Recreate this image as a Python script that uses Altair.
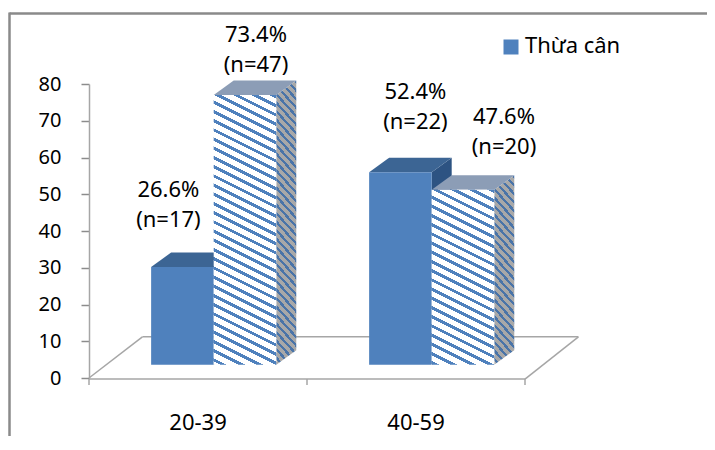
import math
import altair as alt
import pandas as pd

# ---------------- data ----------------
CATEGORIES = ["20-39", "40-59"]
SERIES = ["Thừa cân", "Không thừa cân"]
PCT_OVERWEIGHT = [26.6, 52.4]
PCT_OTHER = [73.4, 47.6]
N_OVERWEIGHT = [17, 22]
N_OTHER = [47, 20]
Y_TICKS = [0, 10, 20, 30, 40, 50, 60, 70, 80]
Y_MAX = 80

# ---------------- layout & style ----------------
FONT = "Noto Sans"
PLOT_W, PLOT_H = 520, 294
PX_PER_CAT = 218.0
X_MAX = PLOT_W / PX_PER_CAT
PX_PER_Y = PLOT_H / Y_MAX
BAR_BASE = 3.6            # 3-D floor offset of the bar front plane (y units)
BAR_LEFT = [0.285, 0.572]  # left edge of each series inside a category band
BAR_W = 0.287
DEPTH_DX = 20 / PX_PER_CAT
DEPTH_DY = 14.5 / PX_PER_Y
FLOOR_DX = 0.245
FLOOR_FRONT = -0.3
FLOOR_BACK = 11.2
TICK_LEN = 6 / PX_PER_Y
LABEL_NUDGE_PX = [-14, 11, 15, 41]
LABEL_GAP = [8.85, 4.25, 9.7, 7.7]

BLUE = "#4f81bd"
BLUE_TOP = "#3c6594"
BLUE_SIDE = "#2d5382"
HATCH_TOP = "#8c9db6"
GRAY = "#a6a6a6"
FRAME = "#8a8a8a"

X = alt.Scale(domain=[0, X_MAX], nice=False, zero=False)
Y = alt.Scale(domain=[0, Y_MAX], nice=False, zero=False)


def qx(f="x"):
    return alt.X(f"{f}:Q", scale=X, axis=None)


def qy(f="y", axis=None):
    return alt.Y(f"{f}:Q", scale=Y, axis=axis)


def stripes(w, h, m, v, frac, bg, fg):
    """Diagonal stripes as a bounding-box linear gradient (pixel slope m, vertical spacing v)."""
    gx, gy = -m / h, 1 / w
    rng = 1 / w + m / h
    s = rng / (gx * gx + gy * gy)
    n = (h + m * w) / v
    stops = []
    k = 0
    while k < n:
        a = min(k / n, 1.0)
        b = min((k + frac) / n, 1.0)
        c = min((k + 1) / n, 1.0)
        stops += [(a, fg), (b, fg), (b, bg), (c, bg)]
        k += 1
    return alt.LinearGradient(
        gradient="linear",
        x1=1.0, y1=0.0, x2=1.0 + gx * s, y2=gy * s,
        stops=[alt.GradientStop(offset=round(o, 5), color=c) for o, c in stops],
    )


# ---------------- geometry tables built from the data ----------------
bars = []
for g, cat in enumerate(CATEGORIES):
    for s, (vals, ns) in enumerate([(PCT_OVERWEIGHT, N_OVERWEIGHT), (PCT_OTHER, N_OTHER)]):
        v = vals[g]
        x = g + BAR_LEFT[s]
        bars.append(dict(id=f"{g}-{s}", cat=cat, series=SERIES[s], s=s, x=x, x2=x + BAR_W,
                         y=BAR_BASE, y2=BAR_BASE + v, value=v, n=ns[g]))


def side_rows(b):
    return [dict(id=b["id"], x=b["x2"], y=b["y2"], y2=b["y"]),
            dict(id=b["id"], x=b["x2"] + DEPTH_DX, y=b["y2"] + DEPTH_DY, y2=b["y"] + DEPTH_DY)]


def top_rows(b):
    return [dict(id=b["id"], y=b["y2"], x=b["x"], x2=b["x2"]),
            dict(id=b["id"], y=b["y2"] + DEPTH_DY, x=b["x"] + DEPTH_DX, x2=b["x2"] + DEPTH_DX)]


solid = [b for b in bars if b["s"] == 0]
hatched = [b for b in bars if b["s"] == 1]

ncat = len(CATEGORIES)
floor_df = pd.DataFrame([
    dict(x=0, x2=ncat, y=FLOOR_FRONT, y2=FLOOR_FRONT),
    dict(x=FLOOR_DX, x2=ncat + FLOOR_DX, y=FLOOR_BACK, y2=FLOOR_BACK),
    dict(x=0, x2=FLOOR_DX, y=0, y2=FLOOR_BACK),
    dict(x=ncat, x2=ncat + FLOOR_DX, y=FLOOR_FRONT, y2=FLOOR_BACK),
])
ticks_df = pd.DataFrame([dict(x=i, y=FLOOR_FRONT, y2=FLOOR_FRONT - TICK_LEN) for i in range(ncat + 1)])
cat_df = pd.DataFrame([dict(x=i + 0.5, label=c) for i, c in enumerate(CATEGORIES)])
axis_df = pd.DataFrame({"y": [0, Y_MAX]})

labels = []
for i, b in enumerate(bars):
    cx = (b["x"] + b["x2"]) / 2 + LABEL_NUDGE_PX[i] / PX_PER_CAT
    labels.append(dict(x=cx, y=b["y2"] + DEPTH_DY + LABEL_GAP[i],
                       pct=f"{b['value']}%", nlab=f"(n={b['n']})"))
labels_df = pd.DataFrame(labels)

one = pd.DataFrame({"k": [0]})
legend_df = pd.DataFrame({"label": [SERIES[0]]})

# ---------------- layers ----------------
layers = []

# outer frame (top + left)
layers.append(alt.Chart(one).mark_rule(color=FRAME, strokeWidth=2.5).encode(
    x=alt.value(-79.5), x2=alt.value(618), y=alt.value(-70.5)))
layers.append(alt.Chart(one).mark_rule(color=FRAME, strokeWidth=2.5).encode(
    x=alt.value(-79.5), y=alt.value(-71.5), y2=alt.value(360)))

# y axis
axis = alt.Axis(values=Y_TICKS, tickSize=8, labelPadding=20, domainColor=GRAY, domainWidth=1.5,
                tickColor="#8c8c8c", tickWidth=1.5, labelFont=FONT, labelFontSize=20,
                labelColor="#000000", grid=False, title=None)
layers.append(alt.Chart(axis_df).mark_point(opacity=0).encode(
    x=alt.value(0), y=qy("y", axis)))

# floor
layers.append(alt.Chart(floor_df).mark_rule(color=GRAY, strokeWidth=1.5).encode(
    x=qx("x"), x2="x2:Q", y=qy("y"), y2="y2:Q"))
layers.append(alt.Chart(ticks_df).mark_rule(color=GRAY, strokeWidth=1.5).encode(
    x=qx("x"), y=qy("y"), y2="y2:Q"))

# solid series: side, top, front
side_solid = pd.DataFrame([r for b in solid for r in side_rows(b)])
top_solid = pd.DataFrame([r for b in solid for r in top_rows(b)])
layers.append(alt.Chart(side_solid).mark_area(orient="vertical", color=BLUE_SIDE).encode(
    x=qx("x"), y=qy("y"), y2="y2:Q", detail="id:N"))
layers.append(alt.Chart(top_solid).mark_area(orient="horizontal", color=BLUE_TOP).encode(
    y=qy("y"), x=qx("x"), x2="x2:Q", detail="id:N"))
layers.append(alt.Chart(pd.DataFrame(solid)).mark_bar(color=BLUE).encode(
    x=qx("x"), x2="x2:Q", y=qy("y"), y2="y2:Q"))

# hatched series (pattern built per bar)
for b in hatched:
    hpx = b["value"] * PX_PER_Y
    wpx = BAR_W * PX_PER_CAT
    side_fill = stripes(DEPTH_DX * PX_PER_CAT, hpx + DEPTH_DY * PX_PER_Y, 1.1, 8.5, 0.4, "#a8a8a8", "#4a74a8")
    front_fill = stripes(wpx, hpx, 0.5, 9.2, 0.37, "#ffffff", BLUE)
    layers.append(alt.Chart(pd.DataFrame(side_rows(b))).mark_area(orient="vertical", fill=side_fill).encode(
        x=qx("x"), y=qy("y"), y2="y2:Q", detail="id:N"))
    layers.append(alt.Chart(pd.DataFrame(top_rows(b))).mark_area(orient="horizontal", color=HATCH_TOP).encode(
        y=qy("y"), x=qx("x"), x2="x2:Q", detail="id:N"))
    layers.append(alt.Chart(pd.DataFrame([b])).mark_bar(fill=front_fill).encode(
        x=qx("x"), x2="x2:Q", y=qy("y"), y2="y2:Q"))

# data labels
layers.append(alt.Chart(labels_df).mark_text(font=FONT, fontSize=22, color="#000000", dy=-30).encode(
    x=qx("x"), y=qy("y"), text="pct:N"))
layers.append(alt.Chart(labels_df).mark_text(font=FONT, fontSize=22, color="#000000").encode(
    x=qx("x"), y=qy("y"), text="nlab:N"))

# category labels
layers.append(alt.Chart(cat_df).mark_text(font=FONT, fontSize=22, color="#000000", baseline="middle").encode(
    x=qx("x"), y=alt.value(338.5), text="label:N"))

# legend
layers.append(alt.Chart(legend_df).mark_square(size=225, color=BLUE, opacity=1).encode(
    x=alt.value(422), y=alt.value(-37)))
layers.append(alt.Chart(legend_df).mark_text(font=FONT, fontSize=22, color="#000000", align="left",
                                              baseline="middle").encode(
    x=alt.value(436), y=alt.value(-38), text="label:N"))

chart = alt.layer(*layers).properties(
    width=PLOT_W, height=PLOT_H,
    autosize=alt.AutoSizeParams(type="none"),
    padding={"left": 81, "top": 76, "right": 98, "bottom": 58},
).resolve_axis(y="independent", x="independent").configure_view(stroke="transparent")

chart.save("out.html", embed_options={"renderer": "svg", "actions": False})
